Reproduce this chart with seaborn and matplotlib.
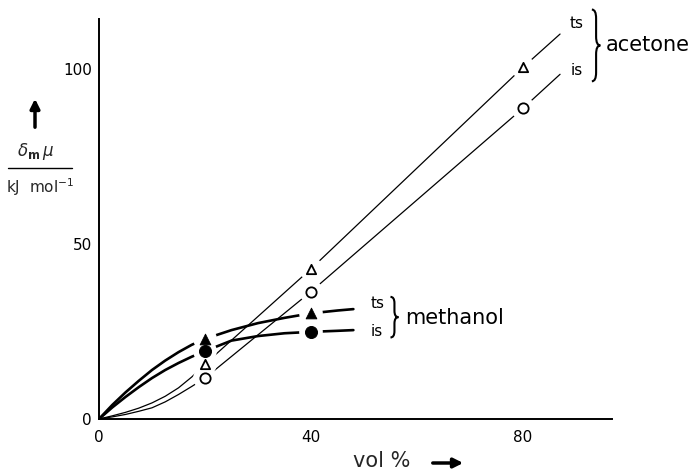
import numpy as np
import pandas as pd
import matplotlib
matplotlib.use("Agg")
import matplotlib.pyplot as plt
from matplotlib.path import Path
from matplotlib.patches import PathPatch
from matplotlib.lines import Line2D
import seaborn as sns

# ---------------- data ----------------
conc_ace = [20, 40, 80]
ace_ts_pts = [15.7, 42.9, 100.5]
ace_is_pts = [11.7, 36.4, 88.8]

conc_meth = [20, 40]
meth_ts_pts = [22.9, 30.2]
meth_is_pts = [19.4, 24.9]

# traced curves
ace_ts_cx = [0, 2.5, 5, 7.5, 10, 12.5, 15, 17.5, 20, 40, 80, 87]
ace_ts_cy = [0, 0.9, 1.9, 3.1, 4.6, 6.5, 8.9, 12.0, 15.7, 42.9, 100.5, 110.0]
ace_is_cx = [0, 2.5, 5, 7.5, 10, 12.5, 15, 17.5, 20, 40, 80, 87]
ace_is_cy = [0, 0.6, 1.3, 2.2, 3.2, 4.9, 7.0, 9.3, 11.7, 36.4, 88.8, 98.5]
meth_ts_cx = [0, 2.5, 5, 7.5, 10, 12.5, 15, 17.5, 20, 25, 30, 35, 40, 45, 48]
meth_ts_cy = [0, 4.0, 7.6, 10.9, 14.0, 16.7, 19.1, 21.2, 22.9, 25.4, 27.4, 28.9, 30.2, 31.0, 31.4]
meth_is_cx = [0, 2.5, 5, 7.5, 10, 12.5, 15, 17.5, 20, 25, 30, 35, 40, 45, 48]
meth_is_cy = [0, 3.3, 6.3, 9.1, 11.7, 14.0, 16.0, 17.8, 19.4, 22.4, 23.7, 24.5, 24.9, 25.2, 25.4]

x_ticks = [0, 40, 80]
y_ticks = [0, 50, 100]

# ---------------- figure ----------------
W, H = 691, 471
sns.set_theme(style="white")
plt.rcParams["font.family"] = ["DejaVu Sans"]
fig = plt.figure(figsize=(W / 100, H / 100), dpi=100)
ax = fig.add_axes([99 / W, 1 - 419 / H, 513 / W, 400 / H])
ax.set_xlim(0, 96.8)
ax.set_ylim(0, 114.3)

def px(x, y):
    return (x / W, 1 - y / H)

thin, thick = 0.9, 1.9
for cx, cy, lw in [(ace_ts_cx, ace_ts_cy, thin), (ace_is_cx, ace_is_cy, thin),
                   (meth_ts_cx, meth_ts_cy, thick), (meth_is_cx, meth_is_cy, thick)]:
    sns.lineplot(x=cx, y=cy, ax=ax, color="black", lw=lw, sort=False,
                 estimator=None, zorder=2, legend=False)

# white gaps around markers
allx = conc_ace + conc_ace + conc_meth + conc_meth
ally = ace_ts_pts + ace_is_pts + meth_ts_pts + meth_is_pts
sns.scatterplot(x=allx, y=ally, ax=ax, s=290, color="white", edgecolor="none",
                marker="o", zorder=3, legend=False)

sns.scatterplot(x=conc_ace, y=ace_ts_pts, ax=ax, marker="^", s=45, facecolor="white",
                edgecolor="black", linewidth=1.3, zorder=4, legend=False)
sns.scatterplot(x=conc_ace, y=ace_is_pts, ax=ax, marker="o", s=55, facecolor="white",
                edgecolor="black", linewidth=1.3, zorder=4, legend=False)
sns.scatterplot(x=conc_meth, y=meth_ts_pts, ax=ax, marker="^", s=60, color="black",
                edgecolor="black", zorder=4, legend=False)
sns.scatterplot(x=conc_meth, y=meth_is_pts, ax=ax, marker="o", s=75, color="black",
                edgecolor="black", zorder=4, legend=False)

# axes styling
for s in ["top", "right"]:
    ax.spines[s].set_visible(False)
for s in ["left", "bottom"]:
    ax.spines[s].set_color("black")
    ax.spines[s].set_linewidth(1.4)
ax.set_xticks(x_ticks)
ax.set_yticks(y_ticks)
ax.tick_params(direction="in", length=7, width=1.0, colors="black", labelsize=11)
ax.tick_params(axis="x", pad=8)
ax.tick_params(axis="y", pad=5)
ax.set_xlabel("")
ax.set_ylabel("")

# braces
def brace(xl, yb, yt, w, r):
    xm = xl + w / 2
    ym = (yb + yt) / 2
    verts = [(xl, yt), (xm, yt), (xm, yt - r), (xm, ym + r), (xm, ym), (xl + w, ym),
             (xm, ym), (xm, ym - r), (xm, yb + r), (xm, yb), (xl, yb)]
    codes = [Path.MOVETO, Path.CURVE3, Path.CURVE3, Path.LINETO, Path.CURVE3, Path.CURVE3,
             Path.CURVE3, Path.CURVE3, Path.LINETO, Path.CURVE3, Path.CURVE3]
    ax.add_patch(PathPatch(Path(verts, codes), fill=False, lw=1.5, color="black",
                           clip_on=False))

brace(93.0, 96.5, 117.0, 1.6, 2.5)
brace(55.0, 23.3, 34.9, 1.5, 1.8)

lab = dict(color="black", clip_on=False)
ax.text(90.2, 113.1, "ts", fontsize=11, ha="center", va="center", **lab)
ax.text(90.2, 99.7, "is", fontsize=11, ha="center", va="center", **lab)
ax.text(95.6, 106.8, "acetone", fontsize=15, ha="left", va="center", **lab)
ax.text(52.5, 33.1, "ts", fontsize=11, ha="center", va="center", **lab)
ax.text(52.5, 25.1, "is", fontsize=11, ha="center", va="center", **lab)
ax.text(57.8, 29.0, "methanol", fontsize=15, ha="left", va="center", **lab)

# y label block
fig.text(*px(36, 152), r"$\delta_{\mathbf{m}}\,\mu$", fontsize=12, ha="center", va="center")
fig.add_artist(Line2D([8 / W, 72 / W], [1 - 168 / H, 1 - 168 / H], color="black", lw=1.0))
fig.text(*px(40, 187), r"kJ  mol$^{-1}$", fontsize=11, ha="center", va="center")
ax.annotate("", xy=px(35, 96), xytext=px(35, 130), xycoords="figure fraction",
            textcoords="figure fraction",
            arrowprops=dict(arrowstyle="-|>", lw=2.5, color="black", mutation_scale=14))

# x label block
fig.text(*px(382, 461), "vol %", fontsize=15, ha="center", va="center")
ax.annotate("", xy=px(466, 463), xytext=px(430, 463), xycoords="figure fraction",
            textcoords="figure fraction",
            arrowprops=dict(arrowstyle="-|>", lw=2.5, color="black", mutation_scale=14))

fig.savefig("out.png", dpi=100, facecolor="white")
